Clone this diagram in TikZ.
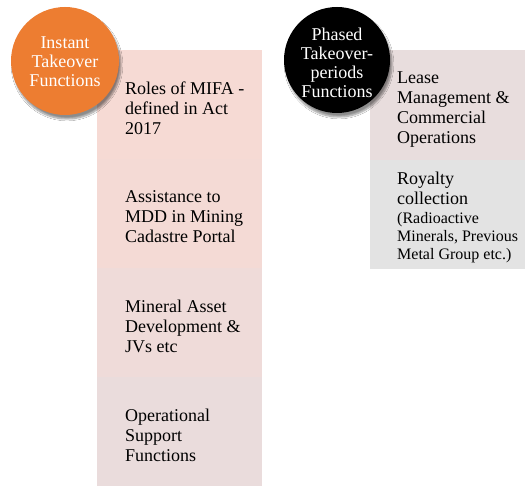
\documentclass[tikz,border=0pt]{standalone}
\usepackage{fontspec}
\setmainfont{Liberation Serif}
\usetikzlibrary{shadows.blur}
\definecolor{orangeC}{HTML}{ED7D31}
\definecolor{boxA}{HTML}{F6DAD4}
\definecolor{boxB}{HTML}{F4DAD5}
\definecolor{boxC}{HTML}{EFDBD9}
\definecolor{boxD}{HTML}{EADCDC}
\definecolor{boxE}{HTML}{E8DDDD}
\definecolor{boxF}{HTML}{E3E3E3}
\newcommand{\smallsz}{\fontsize{16}{18}\selectfont}
\tikzset{
  celltext/.style={anchor=west, align=left, inner sep=0pt, font=\fontsize{18}{20}\selectfont},
  bubble/.style={circle, inner sep=0pt,
    blur shadow={shadow xshift=2pt, shadow yshift=-4pt, shadow blur steps=8, shadow opacity=45}},
  bubbletext/.style={inner sep=0pt, text=white, align=center, font=\fontsize{18}{19}\selectfont},
}
\begin{document}
\begin{tikzpicture}[x=1pt, y=-1pt]
  \useasboundingbox[fill=white] (0,0) rectangle (525,486);
  % left column of instant functions
  \fill[boxA] (97,50) rectangle (262,159);
  \fill[boxB] (97,159) rectangle (262,268);
  \fill[boxC] (97,268) rectangle (262,377);
  \fill[boxD] (97,377) rectangle (262,486);
  \node[celltext] (l1) at (125,108) {Roles of MIFA -\\defined in Act\\2017};
  \node[celltext] (l2) at (125,217) {Assistance to\\MDD in Mining\\Cadastre Portal};
  \node[celltext] (l3) at (125,326) {Mineral Asset\\Development \&\\JVs etc};
  \node[celltext] (l4) at (125,435) {Operational\\Support\\Functions};
  % right column of phased functions
  \fill[boxE] (370,50) rectangle (525,160);
  \fill[boxF] (370,160) rectangle (525,269);
  \node[celltext] (r1) at (397,110) {Lease\\Management \&\\Commercial\\Operations};
  \node[celltext] (r2) at (397,217) {Royalty\\collection\\[-1pt]\smallsz(Radioactive\\[-2pt]\smallsz Minerals, Previous\\[-2pt]\smallsz Metal Group etc.)};
  % heading circles with their titles
  \node[bubble, fill=orangeC, minimum size=108pt] (c1) at (65,61) {};
  \node[bubbletext] (t1) at (65,62) {Instant\\Takeover\\Functions};
  \node[bubble, fill=black, minimum size=106pt] (c2) at (337,60) {};
  \node[bubbletext] (t2) at (337,63) {Phased\\Takeover-\\periods\\Functions};
\end{tikzpicture}
\end{document}
